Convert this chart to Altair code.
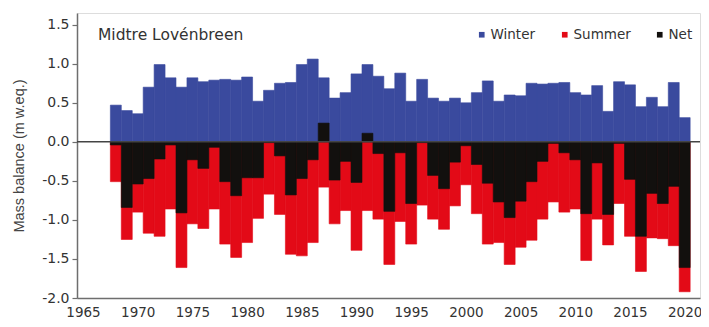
import altair as alt
import pandas as pd

years = list(range(1968, 2021))
winter = [0.47, 0.40, 0.36, 0.70, 0.99, 0.82, 0.70, 0.82, 0.77, 0.79,
          0.80, 0.79, 0.83, 0.52, 0.66, 0.75, 0.76, 0.99, 1.06, 0.82,
          0.56, 0.63, 0.87, 0.99, 0.84, 0.68, 0.88, 0.52, 0.80, 0.56,
          0.52, 0.56, 0.50, 0.63, 0.78, 0.52, 0.60, 0.59, 0.75, 0.74,
          0.75, 0.76, 0.63, 0.60, 0.72, 0.39, 0.77, 0.73, 0.45, 0.57,
          0.45, 0.76, 0.31]
summer = [-0.51, -1.25, -0.90, -1.17, -1.21, -0.86, -1.61, -1.05, -1.11, -0.86,
          -1.31, -1.48, -1.29, -0.98, -0.67, -0.93, -1.44, -1.46, -1.29, -0.58,
          -1.05, -0.88, -1.39, -0.88, -0.99, -1.57, -1.02, -1.31, -0.81, -0.99,
          -1.12, -0.82, -0.55, -0.92, -1.31, -1.29, -1.57, -1.35, -1.26, -0.99,
          -0.77, -0.90, -0.86, -1.52, -0.99, -1.32, -0.79, -1.21, -1.66, -1.23,
          -1.24, -1.33, -1.92]
net = [-0.04, -0.84, -0.54, -0.47, -0.22, -0.04, -0.91, -0.23, -0.34, -0.07,
       -0.51, -0.69, -0.46, -0.46, -0.01, -0.18, -0.68, -0.47, -0.23, 0.24,
       -0.49, -0.25, -0.52, 0.11, -0.15, -0.89, -0.14, -0.79, -0.01, -0.43,
       -0.60, -0.26, -0.05, -0.29, -0.53, -0.77, -0.97, -0.76, -0.51, -0.25,
       -0.02, -0.14, -0.23, -0.92, -0.27, -0.93, -0.02, -0.48, -1.21, -0.66,
       -0.79, -0.57, -1.61]

series = ["Winter", "Summer", "Net"]
colors = ["#3A4A9E", "#E30A17", "#12100E"]
x_ticks = [1965, 1970, 1975, 1980, 1985, 1990, 1995, 2000, 2005, 2010, 2015, 2020]
y_ticks = [-2.0, -1.5, -1.0, -0.5, 0.0, 0.5, 1.0, 1.5]
glacier = "Midtre Lovénbreen"
y_title = "Mass balance (m w.eq.)"

rows = []
for name, vals in zip(series, [winter, summer, net]):
    for yr, v in zip(years, vals):
        rows.append({"year": yr, "series": name, "value": v})
df = pd.DataFrame(rows)

FONT = "DejaVu Sans"
W, H = 623, 285

xscale = alt.Scale(domain=[1964.45, 2021.4], nice=False, zero=False)
yscale = alt.Scale(domain=[-2.0, 1.65], nice=False, zero=False)
cscale = alt.Scale(domain=series, range=colors)

xaxis = alt.Axis(values=x_ticks, format="d", title=None, grid=False, ticks=False,
                 labelFont=FONT, labelFontSize=13.5, labelColor="#333333",
                 labelPadding=7, domainColor="#6E6E6E", domainWidth=1.5,
                 labelFlush=False, labelOverlap=False)
yaxis = alt.Axis(values=y_ticks, labelExpr="replace(format(datum.value, '.1f'), '\u2212', '-')",
                 title=y_title, titleFont="Liberation Sans", titleFontSize=14.5,
                 titleFontWeight="normal", titleColor="#444444", titlePadding=15,
                 grid=False, labelFont=FONT, labelFontSize=14, labelColor="#333333",
                 tickSize=5, tickColor="#6E6E6E", tickWidth=1.2, labelPadding=3,
                 domainColor="#6E6E6E", domainWidth=1.5, labelFlush=False, labelOverlap=False)

color = alt.Color("series:N", scale=cscale,
                  legend=alt.Legend(title=None, orient="none", direction="horizontal",
                                    legendX=398, legendY=15, symbolType="square",
                                    symbolSize=32, symbolStrokeWidth=0, gridAlign="none",
                                    labelFont=FONT, labelFontSize=13.5, labelColor="#333333",
                                    labelOffset=2, columnPadding=22))

base = alt.Chart(df).transform_calculate(x0="datum.year - 0.5", x1="datum.year + 0.5")


def bars(name):
    return base.transform_filter(alt.datum.series == name).mark_rect(strokeWidth=0.6).encode(
        x=alt.X("x0:Q", scale=xscale, axis=xaxis),
        x2="x1:Q",
        y=alt.Y("value:Q", scale=yscale, axis=yaxis),
        y2=alt.datum(0),
        color=color,
        stroke=alt.Stroke("series:N", scale=cscale, legend=None),
    )


zero = alt.Chart(pd.DataFrame({"v": [0.0]})).mark_rule(color="#444444", strokeWidth=1.5).encode(
    y=alt.Y("v:Q", scale=yscale, axis=yaxis),
    x=alt.value(0), x2=alt.value(W),
)

label = alt.Chart(pd.DataFrame({"t": [glacier]})).mark_text(
    align="left", baseline="middle", font=FONT, fontSize=15.5, color="#333333"
).encode(x=alt.value(21), y=alt.value(22), text="t:N")

chart = alt.layer(bars("Winter"), bars("Summer"), bars("Net"), zero, label).properties(
    width=W, height=H,
    padding={"left": 69, "top": 5, "right": 1, "bottom": 21},
    autosize=alt.AutoSizeParams(type="none"),
).configure_view(stroke="#6E6E6E", strokeWidth=1.5).configure(background="white")

chart.save("out.html", embed_options={"renderer": "svg", "actions": False})
